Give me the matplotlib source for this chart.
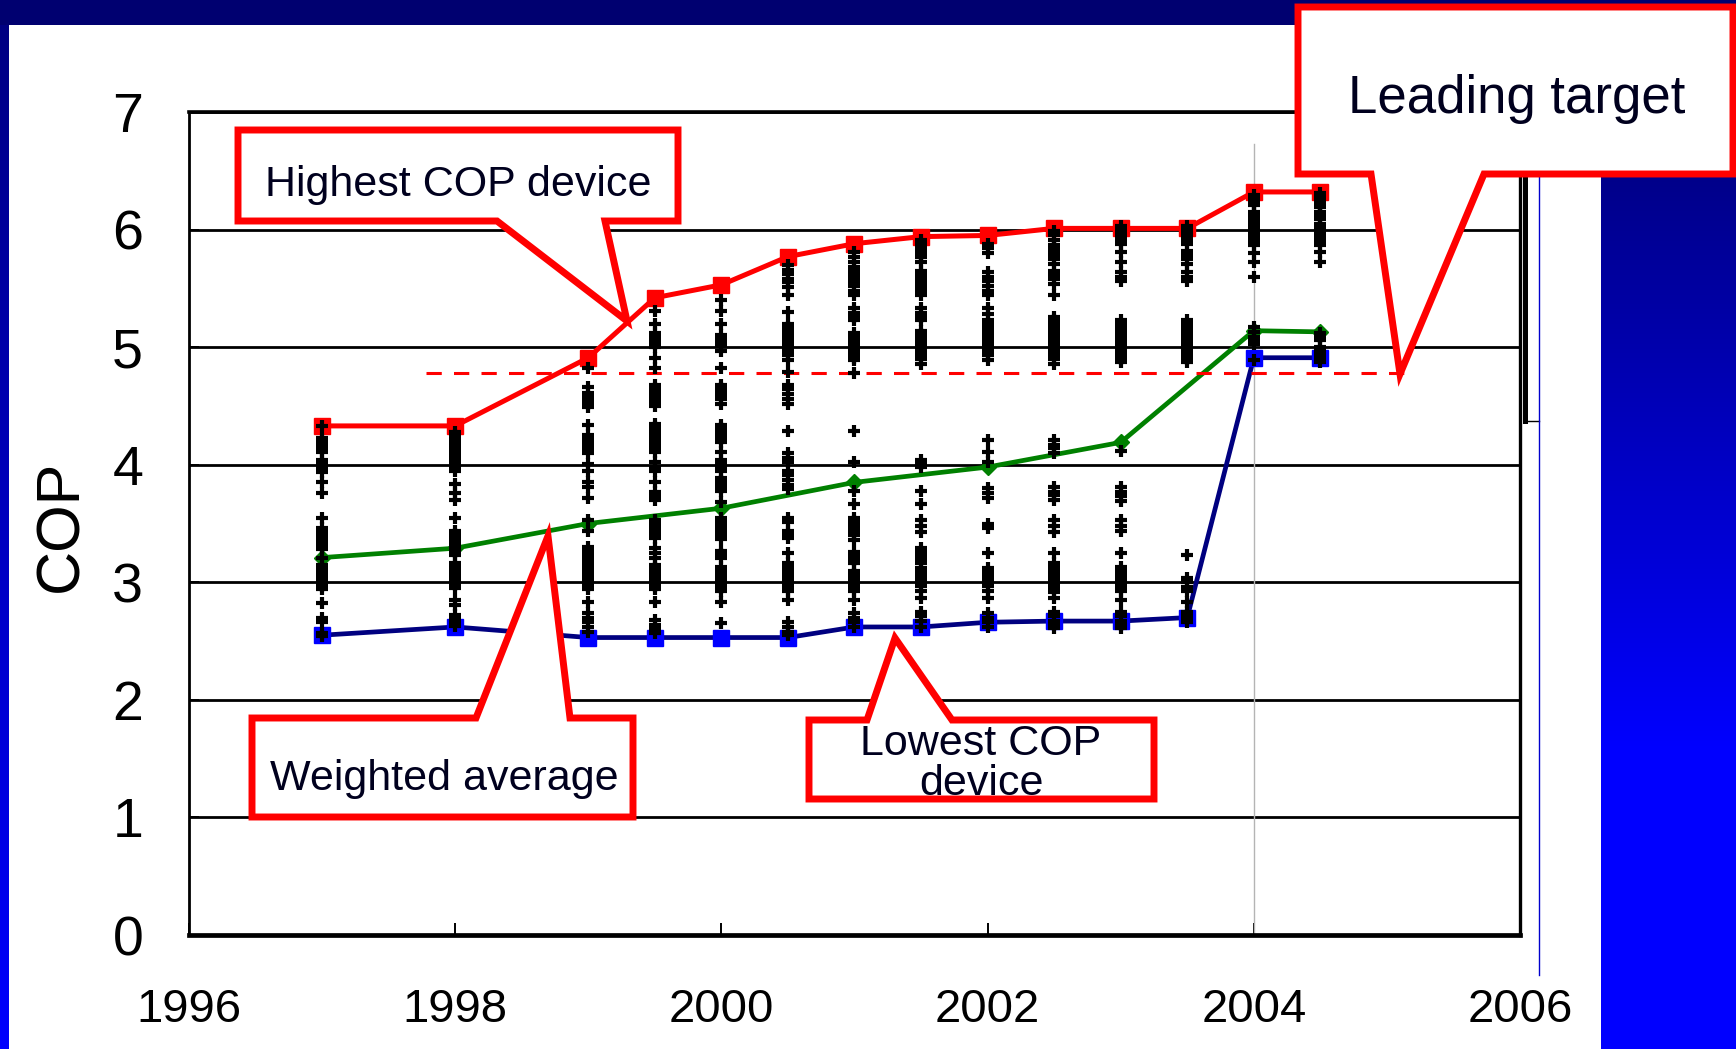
import numpy as np
import matplotlib
matplotlib.use('Agg')
import matplotlib.pyplot as plt
from matplotlib import font_manager as fm
from matplotlib.patches import Polygon
from matplotlib.lines import Line2D

# ---------------- data ----------------
line_years = [1997, 1998, 1999, 1999.5, 2000, 2000.5, 2001, 2001.5, 2002, 2002.5, 2003, 2003.5, 2004, 2004.5]
highest_cop = [4.33, 4.33, 4.91, 5.42, 5.53, 5.77, 5.88, 5.94, 5.95, 6.01, 6.01, 6.01, 6.32, 6.32]
lowest_cop = [2.55, 2.62, 2.53, 2.53, 2.53, 2.53, 2.62, 2.62, 2.66, 2.67, 2.67, 2.70, 4.91, 4.91]
avg_years = [1997, 1998, 1999, 2000, 2001, 2002, 2003, 2004, 2004.5]
avg_cop = [3.21, 3.29, 3.50, 3.63, 3.85, 3.98, 4.19, 5.14, 5.13]

target_cop = 4.78
target_start, target_end = 1997.78, 2005.15
marker_year = 2004

cop_1997 = [4.33, 4.23, 4.20, 4.17, 4.14, 4.11, 4.04, 4.01, 3.97, 3.94, 3.85, 3.76, 3.55, 3.46, 3.43, 3.40, 3.37, 3.34,
            3.31, 3.28, 3.21, 3.15, 3.12, 3.09, 3.06, 3.03, 3.00, 2.97, 2.94, 2.82, 2.70, 2.66, 2.57, 2.54]
cop_1998 = [4.28, 4.25, 4.22, 4.19, 4.16, 4.13, 4.10, 4.07, 4.04, 4.01, 3.98, 3.95, 3.84, 3.76, 3.70, 3.55, 3.44, 3.41,
            3.38, 3.35, 3.32, 3.29, 3.26, 3.23, 3.16, 3.13, 3.10, 3.07, 3.04, 3.01, 2.98, 2.95, 2.85, 2.81, 2.72, 2.69,
            2.66, 2.63]
cop_1999 = [4.82, 4.66, 4.61, 4.58, 4.55, 4.52, 4.49, 4.34, 4.25, 4.22, 4.19, 4.16, 4.13, 4.10, 4.01, 3.95, 3.85, 3.81,
            3.72, 3.53, 3.44, 3.30, 3.27, 3.24, 3.21, 3.18, 3.15, 3.12, 3.09, 3.06, 3.03, 3.00, 2.97, 2.94, 2.83, 2.74,
            2.70, 2.66, 2.62, 2.58]
cop_1999h = [5.31, 5.20, 5.12, 5.09, 5.06, 5.03, 5.00, 4.91, 4.82, 4.68, 4.65, 4.62, 4.59, 4.56, 4.53, 4.50, 4.35, 4.32,
             4.29, 4.26, 4.23, 4.20, 4.17, 4.14, 4.11, 4.02, 3.98, 3.95, 3.85, 3.77, 3.73, 3.70, 3.53, 3.50, 3.47, 3.44,
             3.41, 3.38, 3.29, 3.25, 3.21, 3.15, 3.12, 3.09, 3.06, 3.03, 3.00, 2.97, 2.94, 2.83, 2.68, 2.64, 2.60, 2.57]
cop_2000 = [5.40, 5.31, 5.20, 5.10, 5.07, 5.04, 5.01, 4.97, 4.82, 4.68, 4.65, 4.62, 4.59, 4.56, 4.52, 4.34, 4.31, 4.28,
            4.25, 4.22, 4.19, 4.11, 4.04, 4.01, 3.98, 3.95, 3.89, 3.86, 3.83, 3.80, 3.78, 3.68, 3.55, 3.52, 3.49, 3.46,
            3.43, 3.40, 3.37, 3.27, 3.24, 3.21, 3.13, 3.10, 3.07, 3.04, 3.01, 2.98, 2.95, 2.93, 2.83, 2.65]
cop_2000h = [5.70, 5.66, 5.62, 5.58, 5.55, 5.51, 5.44, 5.30, 5.20, 5.17, 5.14, 5.11, 5.08, 5.05, 5.02, 4.99, 4.96, 4.93,
             4.89, 4.79, 4.68, 4.64, 4.60, 4.56, 4.52, 4.29, 4.10, 4.06, 4.02, 3.95, 3.91, 3.87, 3.83, 3.79, 3.55, 3.51,
             3.44, 3.41, 3.38, 3.25, 3.16, 3.13, 3.10, 3.07, 3.04, 3.01, 2.98, 2.95, 2.93, 2.85, 2.66, 2.62, 2.58, 2.55]
cop_2001 = [5.81, 5.77, 5.72, 5.68, 5.65, 5.61, 5.58, 5.55, 5.52, 5.48, 5.44, 5.33, 5.29, 5.26, 5.23, 5.12, 5.09, 5.06,
            5.03, 5.00, 4.97, 4.94, 4.91, 4.89, 4.78, 4.29, 4.02, 3.78, 3.67, 3.55, 3.52, 3.49, 3.46, 3.43, 3.40, 3.36,
            3.26, 3.22, 3.19, 3.16, 3.10, 3.07, 3.04, 3.01, 2.98, 2.95, 2.93, 2.85, 2.74, 2.70, 2.66, 2.62]
cop_2001h = [5.91, 5.88, 5.85, 5.82, 5.79, 5.77, 5.72, 5.65, 5.62, 5.59, 5.56, 5.53, 5.50, 5.48, 5.44, 5.33, 5.29, 5.26,
             5.23, 5.14, 5.11, 5.08, 5.05, 5.02, 4.99, 4.96, 4.93, 4.90, 4.86, 4.04, 4.01, 3.98, 3.78, 3.67, 3.53, 3.48,
             3.43, 3.29, 3.26, 3.23, 3.20, 3.16, 3.12, 3.09, 3.06, 3.03, 3.00, 2.97, 2.93, 2.87, 2.75, 2.71, 2.67, 2.62]
cop_2002 = [5.88, 5.84, 5.80, 5.64, 5.60, 5.56, 5.52, 5.48, 5.44, 5.33, 5.28, 5.23, 5.20, 5.17, 5.14, 5.11, 5.08, 5.05,
            5.02, 4.99, 4.96, 4.93, 4.89, 4.21, 4.11, 4.02, 3.80, 3.76, 3.72, 3.50, 3.46, 3.25, 3.12, 3.09, 3.06, 3.03,
            3.00, 2.97, 2.93, 2.87, 2.74, 2.70, 2.66, 2.62]
cop_2002h = [5.99, 5.95, 5.91, 5.87, 5.84, 5.81, 5.78, 5.75, 5.71, 5.65, 5.61, 5.58, 5.54, 5.44, 5.26, 5.23, 5.20, 5.17,
             5.14, 5.11, 5.08, 5.05, 5.02, 4.99, 4.96, 4.93, 4.90, 4.86, 4.21, 4.17, 4.14, 4.10, 3.81, 3.77, 3.74, 3.70,
             3.53, 3.48, 3.43, 3.25, 3.16, 3.13, 3.10, 3.07, 3.04, 3.01, 2.98, 2.95, 2.92, 2.87, 2.75, 2.71, 2.67, 2.64,
             2.61]
cop_2003 = [6.03, 6.00, 5.97, 5.94, 5.91, 5.88, 5.81, 5.72, 5.64, 5.60, 5.56, 5.23, 5.20, 5.17, 5.14, 5.11, 5.08, 5.05,
            5.02, 4.99, 4.96, 4.93, 4.90, 4.87, 4.12, 3.81, 3.77, 3.73, 3.69, 3.53, 3.48, 3.44, 3.25, 3.13, 3.10, 3.07,
            3.04, 3.01, 2.98, 2.95, 2.93, 2.85, 2.75, 2.71, 2.67, 2.64, 2.61]
cop_2003h = [6.03, 6.00, 5.97, 5.94, 5.91, 5.88, 5.82, 5.78, 5.75, 5.71, 5.64, 5.60, 5.56, 5.23, 5.20, 5.17, 5.14, 5.11,
             5.08, 5.05, 5.02, 4.99, 4.96, 4.93, 4.90, 4.87, 3.23, 3.04, 3.00, 2.96, 2.93, 2.83, 2.75, 2.72, 2.69, 2.66]
cop_2004 = [6.29, 6.26, 6.23, 6.21, 6.15, 6.12, 6.09, 6.06, 6.02, 5.99, 5.96, 5.93, 5.90, 5.87, 5.80, 5.72, 5.60, 5.17,
            5.13, 5.09, 5.06, 5.03, 4.89]
cop_2004h = [6.31, 6.28, 6.25, 6.22, 6.19, 6.15, 6.12, 6.09, 6.05, 6.02, 5.99, 5.96, 5.93, 5.90, 5.87, 5.81, 5.72, 5.12,
             5.09, 5.06, 5.00, 4.97, 4.94, 4.91, 4.87]

device_columns = {
    1997: cop_1997, 1998: cop_1998, 1999: cop_1999, 1999.5: cop_1999h,
    2000: cop_2000, 2000.5: cop_2000h, 2001: cop_2001, 2001.5: cop_2001h,
    2002: cop_2002, 2002.5: cop_2002h, 2003: cop_2003, 2003.5: cop_2003h,
    2004: cop_2004, 2004.5: cop_2004h,
}

x_ticks = [1996, 1998, 2000, 2002, 2004, 2006]
y_ticks = [0, 1, 2, 3, 4, 5, 6, 7]

# ---------------- figure ----------------
W, H = 1736, 1049
DPI = 100
fig = plt.figure(figsize=(W / DPI, H / DPI), dpi=DPI, facecolor='white')


def fx(x):
    return x / W


def fy(y):
    return 1 - y / H


# slide background
bg = fig.add_axes([0, 0, 1, 1], zorder=-10)
img = np.ones((H, W, 3))
left_b = 0.5 + 0.5 * (np.arange(H) / H)
img[:, :9, 0] = 0
img[:, :9, 1] = 0
img[:, :9, 2] = left_b[:, None]
right_b = np.clip(0.52 + 0.48 * (np.arange(H) - 150) / 600, 0.52, 1.0)
img[:, 1601:, 0] = 0
img[:, 1601:, 1] = 0
img[:, 1601:, 2] = right_b[:, None]
img[:25, :, 0] = 0
img[:25, :, 1] = 0
img[:25, :, 2] = 0.44
bg.imshow(img, aspect='auto', interpolation='nearest', extent=[0, 1, 0, 1])
bg.axis('off')

# fonts
try:
    fm.findfont('Liberation Sans Narrow', fallback_to_default=False)
    xfont, xsize = 'Liberation Sans Narrow', 40
except Exception:
    xfont, xsize = 'Liberation Sans', 34
plt.rcParams['font.family'] = ['Liberation Sans', 'DejaVu Sans']

ax = fig.add_axes([189 / W, 1 - 935 / H, (1520 - 189) / W, (935 - 112) / H])
ax.set_facecolor('white')
ax.set_xlim(1996, 2006)
ax.set_ylim(0, 7)
ax.set_xticks(x_ticks)
ax.set_yticks(y_ticks)
ax.set_xticklabels([str(t) for t in x_ticks], fontfamily=xfont, fontsize=xsize)
ax.set_yticklabels([str(t) for t in y_ticks], fontsize=40)
ax.tick_params(axis='y', direction='in', length=7, width=1.4, pad=33, colors='black')
ax.tick_params(axis='x', direction='in', length=9, width=1.4, pad=38, colors='black')
ax.yaxis.grid(True, color='black', lw=2.0, zorder=1)
ax.set_axisbelow(True)
for side, lw in [('left', 2.0), ('right', 2.4), ('top', 2.6), ('bottom', 3.4)]:
    ax.spines[side].set_linewidth(lw)
    ax.spines[side].set_color('black')

ax.set_ylabel('COP', fontsize=44)
ax.yaxis.set_label_coords(-0.074, 0.497)

# grey vertical marker at 2004
ax.plot([marker_year, marker_year], [0, 6.73], color='#b4b4b4', lw=1.0, zorder=1.5)

# target dashed line
ax.plot([target_start, target_end], [target_cop, target_cop], color='#ff0000', lw=2.2,
        dashes=(5, 4), zorder=3.5)

# series lines
ax.plot(line_years, highest_cop, color='#ff0000', lw=3.6, marker='s', ms=12,
        mfc='#ff0000', mec='#ff0000', zorder=3)
ax.plot(avg_years, avg_cop, color='#008000', lw=3.4, marker='D', ms=8,
        mfc='#008000', mec='#008000', zorder=3)
ax.plot(line_years, lowest_cop, color='#000080', lw=3.4, marker='s', ms=11,
        mfc='#0000ff', mec='#0000ff', zorder=3)

# device scatter
for yr, vals in device_columns.items():
    ax.plot([yr] * len(vals), vals, linestyle='none', marker='+', ms=8, mew=3.0,
            color='black', zorder=4)

# slide artefacts at right of plot
fig.add_artist(Line2D([fx(1525), fx(1525)], [fy(174), fy(421)], lw=3.6, color='black',
                      transform=fig.transFigure))
fig.add_artist(Line2D([fx(1525), fx(1539)], [fy(421), fy(421)], lw=1.0, color='black',
                      transform=fig.transFigure))
fig.add_artist(Line2D([fx(1539), fx(1539)], [fy(174), fy(975)], lw=1.0, color='#0000cc',
                      transform=fig.transFigure))


# callouts
def callout(L, T, R, B, b1, b2, tip, side):
    if side == 'bottom':
        pts = [(L, T), (R, T), (R, B), (b2, B), tip, (b1, B), (L, B)]
    else:
        pts = [(L, B), (L, T), (b1, T), tip, (b2, T), (R, T), (R, B)]
    poly = Polygon([(fx(x), fy(y)) for x, y in pts], closed=True, transform=fig.transFigure,
                   facecolor='white', edgecolor='#ff0000', lw=5, joinstyle='miter', zorder=5)
    fig.add_artist(poly)


txt_color = '#00001e'
callout(238, 130, 678, 221, 497, 605, (627, 321), 'bottom')
fig.text(fx(458), fy(196), 'Highest COP device', ha='center', va='baseline', fontsize=31,
         color=txt_color, zorder=6)

callout(252, 718, 633, 817, 476, 570, (548, 536), 'top')
fig.text(fx(444), fy(790), 'Weighted average', ha='center', va='baseline', fontsize=31,
         color=txt_color, zorder=6)

callout(809, 720, 1154, 799, 867, 952, (895, 638), 'top')
fig.text(fx(981), fy(755), 'Lowest COP', ha='center', va='baseline', fontsize=31,
         color=txt_color, zorder=6)
fig.text(fx(981), fy(795), 'device', ha='center', va='baseline', fontsize=31,
         color=txt_color, zorder=6)

callout(1298, 7, 1733, 174, 1371, 1484, (1400, 374), 'bottom')
fig.text(fx(1517), fy(113), 'Leading target', ha='center', va='baseline', fontsize=38,
         color=txt_color, zorder=6)

fig.savefig('out.png', dpi=DPI, facecolor='white')
